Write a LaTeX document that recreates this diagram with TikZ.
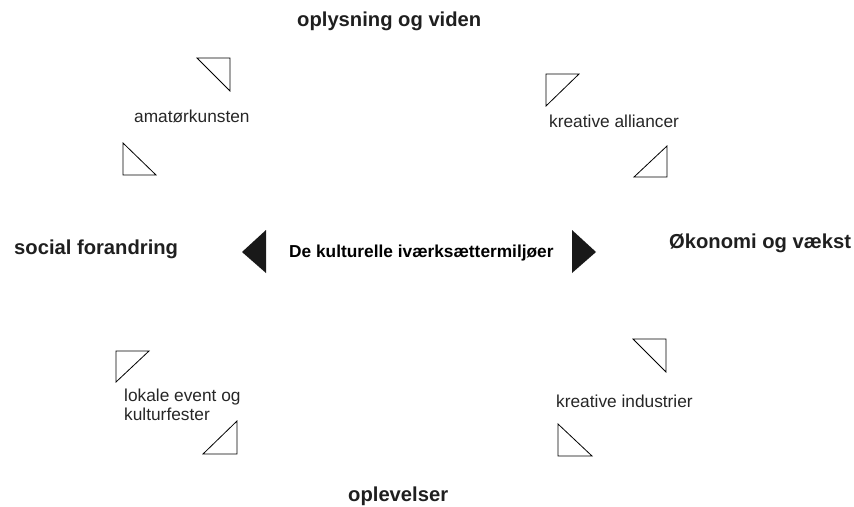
\documentclass[tikz,border=0pt]{standalone}
\usepackage{fontspec}
\setmainfont{Liberation Sans}
\usepackage{tikz}

\tikzset{
  theme/.style={font=\fontsize{20.2}{23}\selectfont\bfseries, anchor=base west, inner sep=0pt, text=black!88},
  core/.style={font=\fontsize{17.3}{20}\selectfont\bfseries, anchor=base west, inner sep=0pt},
  field/.style={font=\fontsize{17.3}{20}\selectfont, anchor=base west, inner sep=0pt, text=black!85},
  wedge/.style={draw, line width=0.8pt, line join=miter},
  pointer/.style={fill=black!90, draw=none}
}

\begin{document}
\begin{tikzpicture}[x=1pt,y=-1pt]
\useasboundingbox (0,0) rectangle (854,506);
% the four themes
\node[theme] (viden) at (297,27) {oplysning og viden};
\node[theme] (social) at (14,254) {social forandring};
\node[theme] (vaekst) at (669,248) {Økonomi og vækst};
\node[theme] (oplev) at (348,501) {oplevelser};
% centre
\node[core] (miljo) at (289,257.5) {De kulturelle iværksættermiljøer};
\draw[pointer] (242,252)--(266,230)--(266,273)--cycle;
\draw[pointer] (572,230)--(572,273)--(596,252)--cycle;
% fields
\node[field] (amator) at (134,122) {amatørkunsten};
\node[field] (allianc) at (549,127) {kreative alliancer};
\node[field] (lokale) at (124,401) {lokale event og};
\node[field] (fester) at (124,420) {kulturfester};
\node[field] (industri) at (556,407) {kreative industrier};
% small triangles
\draw[wedge] (197,58)--(230,58)--(230,91)--cycle;
\draw[wedge] (123,143)--(123,175)--(156,175)--cycle;
\draw[wedge] (546,74)--(579,74)--(546,106)--cycle;
\draw[wedge] (667,146)--(667,177)--(634,177)--cycle;
\draw[wedge] (116,351)--(149,351)--(116,382)--cycle;
\draw[wedge] (237,421)--(237,454)--(203,454)--cycle;
\draw[wedge] (633,339)--(666,339)--(666,372)--cycle;
\draw[wedge] (558,424)--(558,456)--(592,456)--cycle;
\end{tikzpicture}
\end{document}
